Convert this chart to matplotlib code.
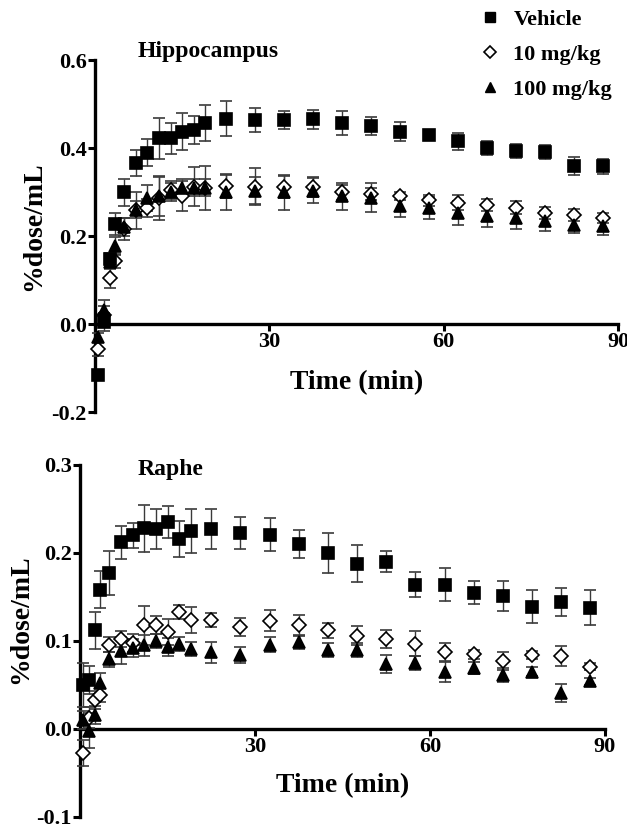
import matplotlib
matplotlib.use("Agg")
import matplotlib.pyplot as plt
from matplotlib.lines import Line2D

plt.rcParams["font.family"] = ["Liberation Serif", "DejaVu Serif"]
plt.rcParams["font.weight"] = "bold"

# frame mid-times (min)
time = [0.5, 1.5, 2.5, 3.5, 5, 7, 9, 11, 13, 15, 17, 19,
        22.5, 27.5, 32.5, 37.5, 42.5, 47.5, 52.5, 57.5, 62.5, 67.5, 72.5, 77.5, 82.5, 87.5]

# Hippocampus
hip_veh = [-0.115, 0.004, 0.147, 0.228, 0.299, 0.366, 0.389, 0.422, 0.422, 0.437, 0.441, 0.456,
           0.467, 0.464, 0.464, 0.465, 0.457, 0.450, 0.437, 0.429, 0.415, 0.401, 0.393, 0.391, 0.359, 0.358]
hip_veh_err = [0.0, 0.02, 0.015, 0.025, 0.03, 0.03, 0.031, 0.046, 0.035, 0.042, 0.031, 0.041,
               0.04, 0.027, 0.021, 0.022, 0.028, 0.02, 0.022, 0.005, 0.019, 0.016, 0.016, 0.015, 0.02, 0.017]
hip_10 = [-0.057, 0.02, 0.104, 0.143, 0.215, 0.258, 0.264, 0.287, 0.304, 0.291, 0.312, 0.310,
          0.314, 0.312, 0.312, 0.312, 0.299, 0.295, 0.291, 0.281, 0.276, 0.271, 0.264, 0.253, 0.248, 0.241]
hip_10_err = [0.015, 0.02, 0.023, 0.015, 0.025, 0.042, 0.02, 0.05, 0.02, 0.035, 0.044, 0.05,
              0.027, 0.042, 0.025, 0.023, 0.018, 0.014, 0.01, 0.013, 0.018, 0.014, 0.015, 0.014, 0.013, 0.011]
hip_100 = [-0.03, 0.032, 0.14, 0.177, 0.22, 0.26, 0.287, 0.29, 0.30, 0.31, 0.31, 0.31,
           0.299, 0.303, 0.299, 0.303, 0.29, 0.287, 0.268, 0.264, 0.253, 0.245, 0.240, 0.234, 0.226, 0.222]
hip_100_err = [0.01, 0.023, 0.015, 0.02, 0.02, 0.02, 0.03, 0.045, 0.02, 0.02, 0.02, 0.02,
               0.04, 0.03, 0.039, 0.029, 0.03, 0.033, 0.025, 0.025, 0.027, 0.025, 0.023, 0.023, 0.02, 0.019]

# Raphe
rap_veh = [0.050, 0.056, 0.112, 0.158, 0.177, 0.212, 0.220, 0.228, 0.227, 0.235, 0.216, 0.225,
           0.227, 0.223, 0.221, 0.210, 0.200, 0.188, 0.190, 0.164, 0.164, 0.155, 0.151, 0.139, 0.144, 0.138]
rap_veh_err = [0.025, 0.016, 0.021, 0.021, 0.025, 0.019, 0.014, 0.027, 0.023, 0.018, 0.02, 0.025,
               0.023, 0.018, 0.019, 0.016, 0.023, 0.021, 0.012, 0.014, 0.019, 0.013, 0.017, 0.019, 0.016, 0.02]
rap_10 = [-0.027, 0.013, 0.033, 0.039, 0.096, 0.102, 0.098, 0.118, 0.118, 0.110, 0.133, 0.124,
          0.124, 0.116, 0.123, 0.118, 0.112, 0.106, 0.102, 0.097, 0.087, 0.085, 0.077, 0.084, 0.083, 0.071]
rap_10_err = [0.015, 0.012, 0.01, 0.008, 0.008, 0.009, 0.01, 0.022, 0.01, 0.015, 0.008, 0.015,
              0.008, 0.01, 0.012, 0.012, 0.009, 0.011, 0.01, 0.014, 0.011, 0.005, 0.01, 0.005, 0.011, 0.004]
rap_100 = [0.01, -0.002, 0.016, 0.052, 0.079, 0.089, 0.092, 0.095, 0.100, 0.093, 0.097, 0.091,
           0.087, 0.084, 0.096, 0.099, 0.090, 0.090, 0.074, 0.075, 0.065, 0.069, 0.061, 0.065, 0.041, 0.054]
rap_100_err = [0.01, 0.02, 0.01, 0.012, 0.008, 0.015, 0.01, 0.012, 0.008, 0.01, 0.008, 0.008,
               0.012, 0.009, 0.008, 0.008, 0.008, 0.008, 0.01, 0.008, 0.012, 0.007, 0.008, 0.005, 0.01, 0.004]

labels = ["Vehicle", "10 mg/kg", "100 mg/kg"]


def draw_series(ax, y, err, marker, face, ms):
    ax.errorbar(time, y, yerr=err, fmt=marker, ms=ms, mfc=face, mec="black", mew=1.2,
                ecolor="#3a3a3a", elinewidth=1.0, capsize=4.5, capthick=1.0, clip_on=False, zorder=3)


def style_axes(ax, ylim, yticks):
    ax.set_xlim(0, 90)
    ax.set_ylim(*ylim)
    ax.spines["top"].set_visible(False)
    ax.spines["right"].set_visible(False)
    ax.spines["bottom"].set_position(("data", 0))
    for s in ("left", "bottom"):
        ax.spines[s].set_linewidth(2.4)
    ax.set_xticks([30, 60, 90])
    ax.set_yticks(yticks)
    ax.set_yticklabels([f"{v:.1f}" for v in yticks])
    ax.tick_params(axis="both", direction="out", length=5, width=2.2, labelsize=16, pad=1)
    ax.patch.set_visible(False)


fig = plt.figure(figsize=(6.27, 8.26), dpi=100)
W, H = 627, 826

ax1 = fig.add_axes([95 / W, 1 - 412 / H, 523 / W, 352 / H])
ax2 = fig.add_axes([80 / W, 1 - 817 / H, 525 / W, 352 / H])

for ax, ser in ((ax1, [(hip_veh, hip_veh_err), (hip_10, hip_10_err), (hip_100, hip_100_err)]),
                (ax2, [(rap_veh, rap_veh_err), (rap_10, rap_10_err), (rap_100, rap_100_err)])):
    draw_series(ax, ser[1][0], ser[1][1], "D", "white", 7.5)
    draw_series(ax, ser[2][0], ser[2][1], "^", "black", 8)
    draw_series(ax, ser[0][0], ser[0][1], "s", "black", 8.5)

style_axes(ax1, (-0.2, 0.6), [-0.2, 0.0, 0.2, 0.4, 0.6])
style_axes(ax2, (-0.1, 0.3), [-0.1, 0.0, 0.1, 0.2, 0.3])

ax1.text(0.082, 1.023, "Hippocampus", transform=ax1.transAxes, fontsize=17,
         fontweight="bold", ha="left", va="center")
ax2.text(0.11, 0.986, "Raphe", transform=ax2.transAxes, fontsize=17,
         fontweight="bold", ha="left", va="center")

for ax in (ax1, ax2):
    ax.set_ylabel("%dose/mL", fontsize=20, fontweight="bold")
    ax.set_xlabel("Time (min)", fontsize=20, fontweight="bold")

ax1.yaxis.set_label_coords(-0.094, 0.528)
ax2.yaxis.set_label_coords(-0.09, 0.562)
ax1.xaxis.set_label_coords(0.5, 0.118)
ax2.xaxis.set_label_coords(0.5, 0.125)

handles = [
    Line2D([], [], ls="none", marker="s", ms=7, mfc="black", mec="black"),
    Line2D([], [], ls="none", marker="D", ms=6.5, mfc="white", mec="black", mew=1.2),
    Line2D([], [], ls="none", marker="^", ms=7, mfc="black", mec="black"),
]
fig.legend(handles, labels, loc="upper left", bbox_to_anchor=(459 / W, 1 + 11 / H),
           frameon=False, prop={"weight": "bold", "size": 16},
           handlelength=1.0, handletextpad=0.55, labelspacing=0.65)

fig.savefig("out.png", dpi=100)
